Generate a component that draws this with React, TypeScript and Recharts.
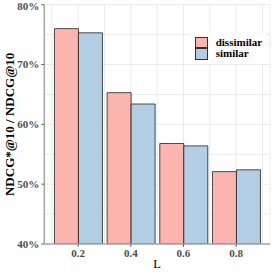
import React from 'react';
import { BarChart, Bar, XAxis, YAxis, CartesianGrid, Legend, Label } from 'recharts';

const L_LABELS = ['0.2', '0.4', '0.6', '0.8'];
const L_VALUES = [0.2, 0.4, 0.6, 0.8];
const DISSIMILAR = [76.0, 65.3, 56.8, 52.1];
const SIMILAR = [75.3, 63.4, 56.4, 52.4];
const Y_TICKS = [40, 50, 60, 70, 80];
const GRID_Y = [40, 45, 50, 55, 60, 65, 70, 75, 80];
const GRID_X = [0.1, 0.2, 0.3, 0.4, 0.5, 0.6, 0.7, 0.8, 0.9];
const SERIES = ['dissimilar', 'similar'];
const COLORS = ['#FBB4AE', '#B3CDE3'];

const data = L_LABELS.map((l, i) => ({
  L: l,
  lv: L_VALUES[i],
  dissimilar: DISSIMILAR[i],
  similar: SIMILAR[i],
}));

const FONT = '"Liberation Serif", "DejaVu Serif", serif';

const LegendBox = () => (
  <div style={{ background: '#fff', padding: '4px 4px 4px 5px', fontFamily: FONT }}>
    {SERIES.map((n, i) => (
      <div key={n} style={{ display: 'flex', alignItems: 'center', height: 11.3 }}>
        <div
          style={{
            width: 12.7,
            height: 11.3,
            background: COLORS[i],
            border: '1px solid #333',
            boxSizing: 'border-box',
          }}
        />
        <span style={{ marginLeft: 8, fontWeight: 'bold', fontSize: 11, color: '#000', lineHeight: '11px' }}>{n}</span>
      </div>
    ))}
  </div>
);

const tickStyle = { fontSize: 11, fontWeight: 'bold' as const, fill: '#4d4d4d', fontFamily: FONT };

export default function App() {
  return (
    <div style={{ position: 'absolute', left: 0, top: 0, width: 274, height: 274, background: '#fff' }}>
      <BarChart
        width={274}
        height={274}
        data={data}
        margin={{ top: 4.7, right: 4, left: 0, bottom: 0 }}
        barCategoryGap={2.64}
        barGap={0}
      >
        <XAxis xAxisId="g" dataKey="lv" type="number" domain={[0.0714, 0.9286]} ticks={GRID_X} allowDataOverflow hide />
        <YAxis yAxisId="g" type="number" domain={[40, 80]} ticks={GRID_Y} allowDataOverflow hide />
        <CartesianGrid xAxisId="g" yAxisId="g" stroke="#ebebeb" strokeWidth={1} />
        <XAxis
          dataKey="L"
          height={30}
          padding={{ left: 7.5, right: 7.5 }}
          tick={tickStyle}
          tickSize={3}
          tickLine={{ stroke: '#666' }}
          axisLine={{ stroke: '#a6a6a6', strokeWidth: 1.5 }}
        >
          <Label
            content={(p: any) => {
              const vb = p.viewBox || {};
              return (
                <text
                  x={vb.x + vb.width / 2}
                  y={vb.y + 20}
                  textAnchor="middle"
                  dominantBaseline="central"
                  fontFamily={FONT}
                  fontSize={12.5}
                  fill="#000"
                >
                  L
                </text>
              );
            }}
          />
        </XAxis>
        <XAxis xAxisId="top" dataKey="L" orientation="top" height={0} tick={false} tickLine={false} padding={{ left: 7.5, right: 7.5 }} axisLine={{ stroke: '#333', strokeWidth: 1 }} />
        <YAxis
          domain={[40, 80]}
          ticks={Y_TICKS}
          width={44.3}
          tickFormatter={(v: number) => `${v}%`}
          tick={tickStyle}
          tickSize={3}
          tickLine={{ stroke: '#666' }}
          axisLine={{ stroke: '#a6a6a6', strokeWidth: 1.5 }}
          allowDataOverflow
        >
          <Label
            content={(p: any) => {
              const vb = p.viewBox || {};
              const cx = 9.5;
              const cy = vb.y + vb.height / 2;
              return (
                <text
                  x={cx}
                  y={cy}
                  transform={`rotate(-90, ${cx}, ${cy})`}
                  textAnchor="middle"
                  dominantBaseline="central"
                  fontFamily={FONT}
                  fontWeight="bold"
                  fontSize={13}
                  fill="#000"
                >
                  NDCG*@10 / NDCG@10
                </text>
              );
            }}
          />
        </YAxis>
        <YAxis yAxisId="right" orientation="right" width={0} domain={[40, 80]} tick={false} tickLine={false} axisLine={{ stroke: '#333', strokeWidth: 1 }} />
        {SERIES.map((s, i) => (
          <Bar key={s} dataKey={s} fill={COLORS[i]} stroke="#222" strokeWidth={0.8} isAnimationActive={false} />
        ))}
        <Legend
          layout="horizontal"
          align="center"
          verticalAlign="middle"
          content={() => <LegendBox />}
          wrapperStyle={{ position: 'absolute', left: 190, top: 33, width: 'auto', height: 'auto' }}
        />
      </BarChart>
    </div>
  );
}
